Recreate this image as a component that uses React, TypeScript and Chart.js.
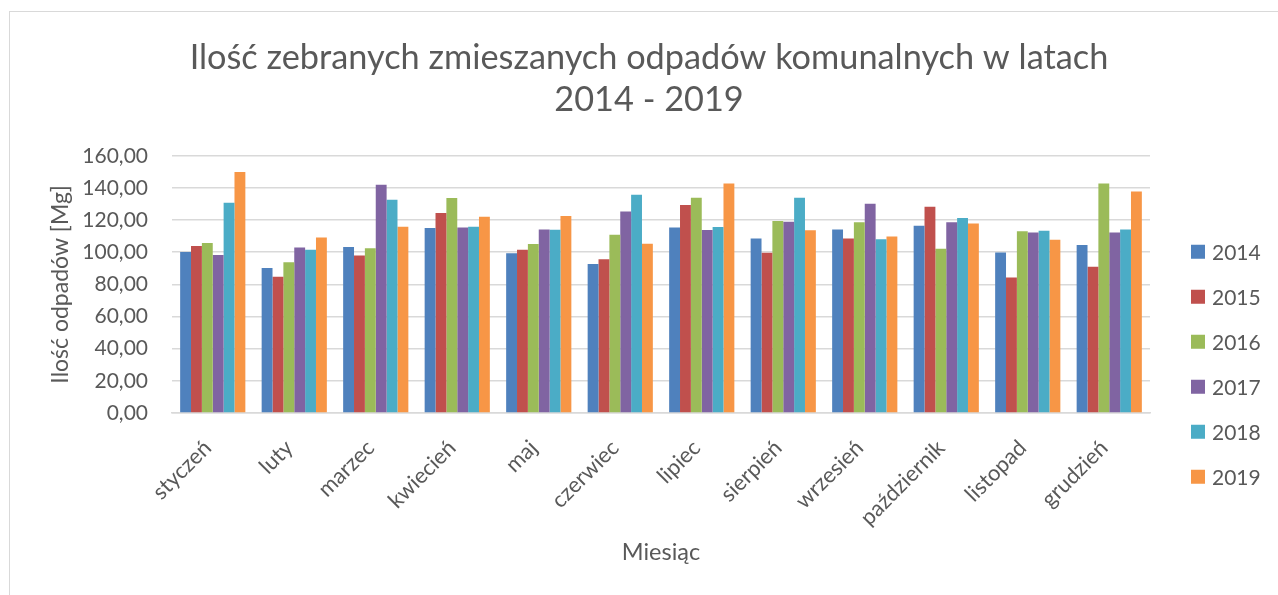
import React, { useEffect, useRef } from "react";
import { Chart, registerables } from "chart.js";

Chart.register(...registerables);

const months = [
  "styczeń", "luty", "marzec", "kwiecień", "maj", "czerwiec",
  "lipiec", "sierpień", "wrzesień", "październik", "listopad", "grudzień",
];
const years = ["2014", "2015", "2016", "2017", "2018", "2019"];
const y2014 = [100.2, 90.2, 103.3, 115.1, 99.3, 92.7, 115.3, 108.6, 114.2, 116.5, 99.9, 104.5];
const y2015 = [103.9, 84.8, 97.9, 124.4, 101.6, 95.6, 129.4, 99.7, 108.6, 128.3, 84.2, 91.0];
const y2016 = [105.8, 93.7, 102.4, 133.7, 105.1, 110.9, 133.9, 119.4, 118.6, 102.2, 113.0, 142.8];
const y2017 = [98.3, 103.0, 142.0, 115.3, 114.2, 125.4, 113.8, 119.0, 130.2, 118.6, 112.2, 112.3];
const y2018 = [130.8, 101.6, 132.7, 115.9, 114.0, 135.8, 115.7, 133.9, 108.0, 121.3, 113.4, 114.2];
const y2019 = [149.9, 109.2, 115.9, 122.1, 122.5, 105.3, 142.8, 113.6, 109.7, 117.9, 107.8, 137.7];
const seriesValues = [y2014, y2015, y2016, y2017, y2018, y2019];
const colors = ["#4F81BD", "#C0504D", "#9BBB59", "#8064A2", "#4BACC6", "#F79646"];

const titleLines = ["Ilość zebranych zmieszanych odpadów komunalnych w latach", "2014 - 2019"];
const yTitle = "Ilość odpadów [Mg]";
const xTitle = "Miesiąc";

const FONT = "Lato, 'Open Sans', 'Liberation Sans', sans-serif";
const TEXT = "#595959";
const GRID = "#d9d9d9";

const legendPlugin = {
  id: "sideLegend",
  afterDraw(chart: any) {
    const ctx = chart.ctx;
    const { right, top } = chart.chartArea;
    ctx.save();
    chart.data.datasets.forEach((ds: any, i: number) => {
      const cy = top + 96 + i * 45;
      ctx.fillStyle = ds.backgroundColor;
      ctx.fillRect(right + 41, cy - 7, 14, 14);
      ctx.fillStyle = TEXT;
      ctx.font = `21px ${FONT}`;
      ctx.textBaseline = "middle";
      ctx.textAlign = "left";
      ctx.fillText(ds.label, right + 62, cy + 1);
    });
    ctx.restore();
  },
};

export default function App() {
  const ref = useRef<HTMLCanvasElement>(null);

  useEffect(() => {
    if (!ref.current) return;
    const chart = new Chart(ref.current, {
      type: "bar",
      data: {
        labels: months,
        datasets: years.map((y, i) => ({
          label: y,
          data: seriesValues[i],
          backgroundColor: colors[i],
          borderWidth: 0,
          categoryPercentage: 0.8,
          barPercentage: 1.0,
        })),
      },
      options: {
        animation: false,
        responsive: false,
        layout: { padding: { left: 20, right: 0, top: 0, bottom: 0 } },
        plugins: {
          legend: { display: false },
          tooltip: { enabled: false },
          title: {
            display: true,
            text: titleLines,
            color: TEXT,
            font: { family: FONT, size: 34.3, weight: "normal", lineHeight: 1.25 },
            padding: { top: 36, bottom: 34 },
          },
        },
        scales: {
          x: {
            grid: { display: false, drawTicks: false },
            border: { display: true, color: GRID, width: 1.5 },
            ticks: {
              color: TEXT,
              font: { family: FONT, size: 22 },
              minRotation: 45,
              maxRotation: 45,
              padding: 22,
              labelOffset: -5,
              autoSkip: false,
            },
            title: {
              display: true,
              text: xTitle,
              color: TEXT,
              font: { family: FONT, size: 23.5 },
              padding: { top: 0, bottom: 28 },
            },
            afterFit: (s: any) => {
              s.height = 182;
            },
          },
          y: {
            min: 0,
            max: 160,
            grid: { color: GRID, lineWidth: 1.5, drawTicks: false },
            border: { display: false },
            ticks: {
              stepSize: 20,
              color: TEXT,
              font: { family: FONT, size: 21 },
              padding: 24,
              callback: (v: any) => Number(v).toFixed(2).replace(".", ","),
            },
            title: {
              display: true,
              text: yTitle,
              color: TEXT,
              font: { family: FONT, size: 23 },
              padding: { top: 27, bottom: 0 },
            },
            afterFit: (s: any) => {
              s.width = 152;
            },
          },
          spacer: {
            type: "linear",
            position: "right",
            display: true,
            grid: { display: false, drawTicks: false },
            border: { display: false },
            ticks: { display: false },
            afterFit: (s: any) => {
              s.width = 128;
            },
          },
        },
      },
      plugins: [legendPlugin],
    } as any);
    return () => chart.destroy();
  }, []);

  return (
    <div
      style={{
        position: "fixed",
        left: 0,
        top: 0,
        width: 1278,
        height: 595,
        overflow: "hidden",
        background: "#fff",
      }}
    >
      <div
        style={{
          position: "absolute",
          left: 9,
          top: 11,
          right: -5,
          bottom: -5,
          border: `1px solid ${GRID}`,
        }}
      />
      <canvas
        ref={ref}
        width={1278}
        height={595}
        style={{ position: "absolute", left: 0, top: 0, width: 1278, height: 595 }}
      />
    </div>
  );
}
